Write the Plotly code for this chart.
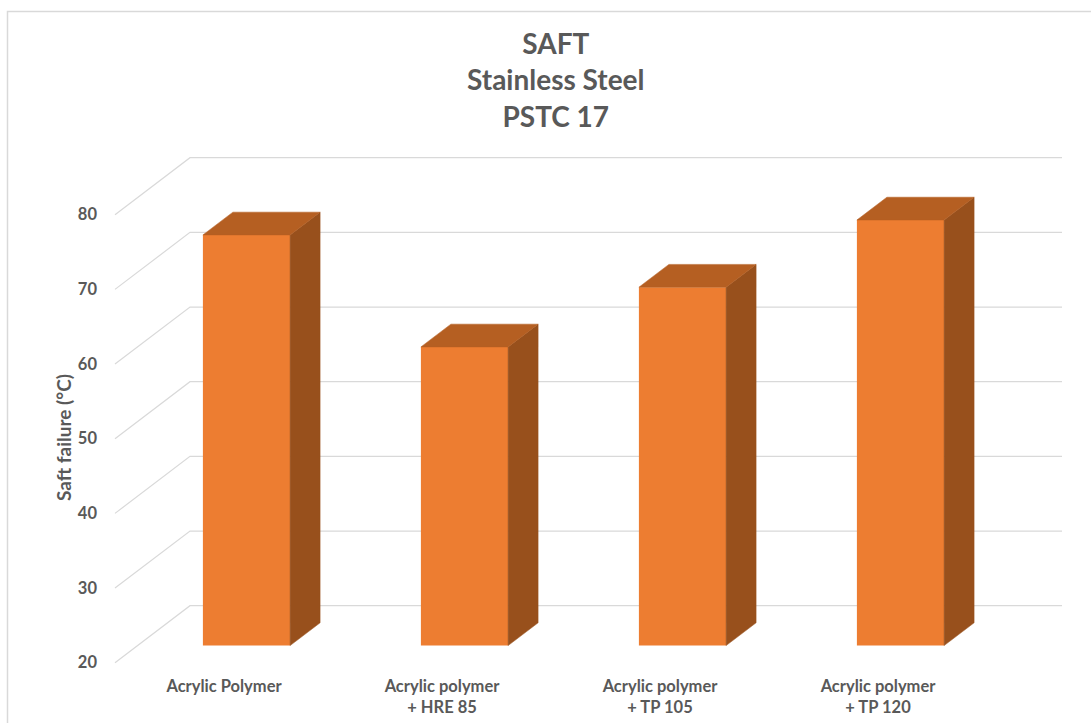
import plotly.graph_objects as go

# ---- data ----
categories = ["Acrylic Polymer", "Acrylic polymer<br>+ HRE 85", "Acrylic polymer<br>+ TP 105", "Acrylic polymer<br>+ TP 120"]
values = [75, 60, 68, 77]
y_ticks = [20, 30, 40, 50, 60, 70, 80]
title_lines = ["SAFT", "Stainless Steel", "PSTC 17"]
y_title = "Saft failure (°C)"

# ---- styling ----
W, H = 1091, 723
L, R, T, B = 98, 1075, 140, 672
PX_X = 218.0          # pixels per category
PX_Y = 448 / 60       # pixels per value unit
X0_PX, Y20_PX = 224.0, 662.7
DX = 75 / PX_X        # full depth of the chart, in x axis units
DY = 57 / PX_Y        # full depth of the chart, in y axis units
D_FRONT, D_BACK = 0.3, 0.7
HALF = 0.2
FONT = "Lato"
GREY = "#595959"
GRID = "#D9D9D9"
FRONT, TOP, SIDE = "#ED7D31", "#B55F22", "#98501C"

xr = [(L - X0_PX) / PX_X, (R - X0_PX) / PX_X]
yr = [20 - (B - Y20_PX) / PX_Y, 20 + (Y20_PX - T) / PX_Y]


def px(x, d):
    return x + d * DX


def py(v, d):
    return v + d * DY


base = y_ticks[0]
idx = list(range(len(values)))
fig = go.Figure()

# front faces
fig.add_trace(go.Bar(
    x=[px(i, D_FRONT) for i in idx],
    y=[v - base for v in values],
    base=py(base, D_FRONT),
    width=2 * HALF,
    marker=dict(color=FRONT, line=dict(width=0)),
    hoverinfo="skip",
))

# side and top faces
for i, v in zip(idx, values):
    r = i + HALF
    l = i - HALF
    fig.add_trace(go.Scatter(
        x=[px(r, D_FRONT), px(r, D_BACK), px(r, D_BACK), px(r, D_FRONT), px(r, D_FRONT)],
        y=[py(base, D_FRONT), py(base, D_BACK), py(v, D_BACK), py(v, D_FRONT), py(base, D_FRONT)],
        mode="lines", fill="toself", fillcolor=SIDE, line=dict(color=SIDE, width=0.5), hoverinfo="skip",
    ))
    fig.add_trace(go.Scatter(
        x=[px(l, D_FRONT), px(r, D_FRONT), px(r, D_BACK), px(l, D_BACK), px(l, D_FRONT)],
        y=[py(v, D_FRONT), py(v, D_FRONT), py(v, D_BACK), py(v, D_BACK), py(v, D_FRONT)],
        mode="lines", fill="toself", fillcolor=TOP, line=dict(color=TOP, width=0.5), hoverinfo="skip",
    ))

# wall and back gridlines
x_left, x_right = idx[0] - 0.5, idx[-1] + 0.5
shapes = []
for t in y_ticks:
    shapes.append(dict(
        type="path", layer="below", xref="x", yref="y",
        path=f"M {px(x_left, 0)} {py(t, 0)} L {px(x_left, 1)} {py(t, 1)} L {px(x_right, 1)} {py(t, 1)}",
        line=dict(color=GRID, width=1.2),
    ))

# chart frame (top and left edges are what the picture shows)
fx = lambda p: (p - L) / (R - L)
fy = lambda p: (B - p) / (B - T)
shapes.append(dict(
    type="path", xref="paper", yref="paper", layer="below",
    path=f"M {fx(7.5)} {fy(730)} L {fx(7.5)} {fy(11.5)} L {fx(1095)} {fy(11.5)}",
    line=dict(color="#D9D9D9", width=1.5),
))

annotations = [
    dict(text="<br>".join(title_lines), xref="paper", yref="paper", x=fx(556), y=fy(79),
         xanchor="center", yanchor="middle", showarrow=False, align="center",
         font=dict(family=FONT, size=28, color=GREY, weight="bold")),
    dict(text=y_title, xref="paper", yref="paper", x=fx(63), y=fy(438), textangle=-90,
         xanchor="center", yanchor="middle", showarrow=False,
         font=dict(family=FONT, size=19, color=GREY, weight="bold")),
]

fig.update_layout(
    width=W, height=H, margin=dict(l=L, r=W - R, t=T, b=H - B, pad=0),
    autosize=False, showlegend=False, plot_bgcolor="white", paper_bgcolor="white",
    shapes=shapes, annotations=annotations,
    xaxis=dict(range=xr, tickmode="array", tickvals=idx, ticktext=categories,
               automargin=False, ticklabelstandoff=2,
               showgrid=False, zeroline=False, showline=False, ticks="",
               tickfont=dict(family=FONT, size=16.5, color=GREY, weight="bold")),
    yaxis=dict(range=yr, tickmode="array", tickvals=y_ticks,
               automargin=False,
               showgrid=False, zeroline=False, showline=False, ticks="",
               tickfont=dict(family=FONT, size=16.5, color=GREY, weight="bold")),
)

fig.write_html("out.html", config={"displayModeBar": False},
               post_script="document.body.style.margin='0';")
